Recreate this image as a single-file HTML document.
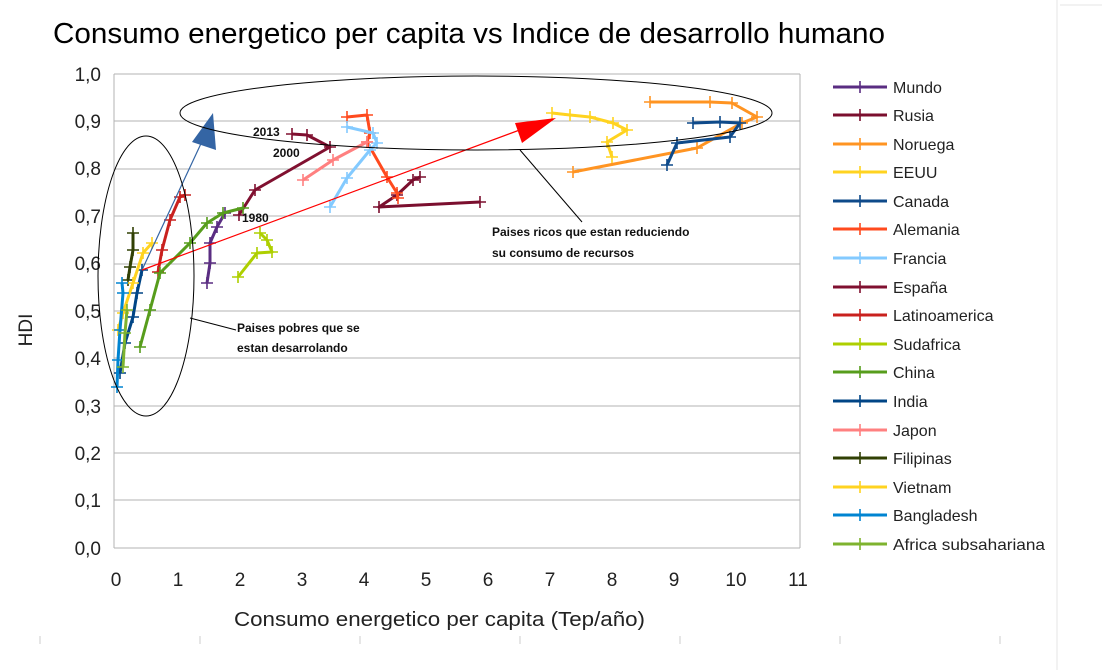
<!DOCTYPE html>
<html><head><meta charset="utf-8"><style>
body{margin:0;background:#fff;}
svg{display:block;font-family:"Liberation Sans",sans-serif;}
</style></head><body>
<svg width="1102" height="670" viewBox="0 0 1102 670" xmlns="http://www.w3.org/2000/svg">
<defs>
<marker id="p" viewBox="-6 -6 12 12" markerWidth="12" markerHeight="12" markerUnits="userSpaceOnUse" refX="0" refY="0"><path d="M-6 0H6M0 -6V6" stroke="context-stroke" stroke-width="1.6"/></marker>
</defs>
<line x1="1057" y1="0" x2="1057" y2="670" stroke="#e4e4e4"/>
<line x1="1060" y1="5" x2="1102" y2="5" stroke="#e4e4e4"/>
<g stroke="#ccc"><line x1="40" y1="636" x2="40" y2="644"/><line x1="200" y1="636" x2="200" y2="644"/><line x1="360" y1="636" x2="360" y2="644"/><line x1="520" y1="636" x2="520" y2="644"/><line x1="680" y1="636" x2="680" y2="644"/><line x1="840" y1="636" x2="840" y2="644"/><line x1="1000" y1="636" x2="1000" y2="644"/></g>
<text x="53" y="43" font-size="29" fill="#000" textLength="832" lengthAdjust="spacingAndGlyphs">Consumo energetico per capita vs Indice de desarrollo humano</text>
<g stroke="#b3b3b3" stroke-width="1">
<line x1="114" y1="74" x2="800" y2="74"/><line x1="114" y1="121" x2="800" y2="121"/><line x1="114" y1="169" x2="800" y2="169"/><line x1="114" y1="216" x2="800" y2="216"/><line x1="114" y1="264" x2="800" y2="264"/><line x1="114" y1="311" x2="800" y2="311"/><line x1="114" y1="358" x2="800" y2="358"/><line x1="114" y1="406" x2="800" y2="406"/><line x1="114" y1="453" x2="800" y2="453"/><line x1="114" y1="500" x2="800" y2="500"/><line x1="114" y1="548" x2="800" y2="548"/>
<line x1="114" y1="74" x2="114" y2="548"/><line x1="800" y1="74" x2="800" y2="548"/>
</g>
<g font-size="19" fill="#222" text-anchor="end">
<text x="101" y="81">1,0</text><text x="101" y="128">0,9</text><text x="101" y="175">0,8</text><text x="101" y="223">0,7</text><text x="101" y="270">0,6</text><text x="101" y="318">0,5</text><text x="101" y="365">0,4</text><text x="101" y="413">0,3</text><text x="101" y="460">0,2</text><text x="101" y="507">0,1</text><text x="101" y="555">0,0</text>
</g>
<g font-size="19" fill="#222" text-anchor="middle">
<text x="116" y="586">0</text><text x="178" y="586">1</text><text x="240" y="586">2</text><text x="302" y="586">3</text><text x="364" y="586">4</text><text x="426" y="586">5</text><text x="488" y="586">6</text><text x="550" y="586">7</text><text x="612" y="586">8</text><text x="674" y="586">9</text><text x="736" y="586">10</text><text x="798" y="586">11</text>
</g>
<text x="234" y="626" font-size="20" fill="#222" textLength="411" lengthAdjust="spacingAndGlyphs">Consumo energetico per capita (Tep/año)</text>
<text x="0" y="0" font-size="19" fill="#222" text-anchor="middle" transform="translate(32,330) rotate(-90)">HDI</text>
<g fill="none" stroke-width="3" stroke-linejoin="round" marker-start="url(#p)" marker-mid="url(#p)" marker-end="url(#p)">
<polyline stroke="#5a2d82" points="207,283 210,263 210,243 217,227 225,213"/>
<polyline stroke="#7b0f2e" points="480,202 379,207 397,195 413,180 420,177"/>
<polyline stroke="#801030" points="239,215 255,190 330,147 307,135 292,134"/>
<polyline stroke="#ff9422" points="573,172 697,148 742,123 757,117 732,103 710,102 650,102"/>
<polyline stroke="#ffd320" points="552,113 570,115 590,117 613,123 627,130 607,142 612,157"/>
<polyline stroke="#0e4a8a" points="667,165 677,143 730,137 740,123 720,122 693,123"/>
<polyline stroke="#ff4a1e" points="398,198 397,193 387,177 367,142 370,133 367,115 347,117"/>
<polyline stroke="#83caff" points="330,207 347,178 370,150 377,143 373,133 347,127"/>
<polyline stroke="#ff8080" points="303,180 333,160 367,142"/>
<polyline stroke="#c9211e" points="158,272 162,250 170,220 180,197 185,195"/>
<polyline stroke="#aecf00" points="238,277 257,253 272,252 267,240 260,233"/>
<polyline stroke="#579d1c" points="140,347 150,310 160,273 190,243 207,223 223,213 243,208"/>
<polyline stroke="#004586" points="120,373 125,343 133,317 137,293 142,270"/>
<polyline stroke="#314004" points="128,280 130,267 133,250 133,233"/>
<polyline stroke="#ffd320" points="118,330 123,313 133,283 143,253 152,243"/>
<polyline stroke="#0084d1" points="117,387 118,360 120,330 123,293 122,283"/>
<polyline stroke="#7eb32f" points="123,367 125,333 127,310"/>
</g>
<line x1="142" y1="270" x2="205" y2="135" stroke="#3465a4" stroke-width="1.2"/>
<polygon points="213,113 216,150 192,142" fill="#3465a4"/>
<line x1="142" y1="270" x2="525" y2="128" stroke="#ff0000" stroke-width="1.2"/>
<polygon points="556,118 522,143 515,123" fill="#ff0000"/>
<ellipse cx="146" cy="276" rx="48" ry="140" fill="none" stroke="#000" stroke-width="1"/>
<ellipse cx="476" cy="113" rx="296" ry="37" fill="none" stroke="#000" stroke-width="1"/>
<line x1="190" y1="318" x2="236" y2="330" stroke="#000"/>
<line x1="520" y1="150" x2="582" y2="222" stroke="#000"/>
<g font-size="12" fill="#111" font-weight="bold">
<text x="237" y="332">Paises pobres que se</text><text x="237" y="352">estan desarrolando</text>
<text x="492" y="236">Paises ricos que estan reduciendo</text><text x="492" y="257">su consumo de recursos</text>
<text x="253" y="136">2013</text><text x="273" y="157">2000</text><text x="242" y="222">1980</text>
</g>
<g stroke-width="3" marker-mid="url(#p)" fill="none">
<polyline stroke="#5a2d82" points="833,87 860,87 887,87"/>
<polyline stroke="#7b0f2e" points="833,115 860,115 887,115"/>
<polyline stroke="#ff9422" points="833,144 860,144 887,144"/>
<polyline stroke="#ffd320" points="833,172 860,172 887,172"/>
<polyline stroke="#0e4a8a" points="833,201 860,201 887,201"/>
<polyline stroke="#ff4a1e" points="833,229 860,229 887,229"/>
<polyline stroke="#83caff" points="833,258 860,258 887,258"/>
<polyline stroke="#801030" points="833,287 860,287 887,287"/>
<polyline stroke="#c9211e" points="833,315 860,315 887,315"/>
<polyline stroke="#aecf00" points="833,344 860,344 887,344"/>
<polyline stroke="#579d1c" points="833,372 860,372 887,372"/>
<polyline stroke="#004586" points="833,401 860,401 887,401"/>
<polyline stroke="#ff8080" points="833,430 860,430 887,430"/>
<polyline stroke="#314004" points="833,458 860,458 887,458"/>
<polyline stroke="#ffd320" points="833,487 860,487 887,487"/>
<polyline stroke="#0084d1" points="833,515 860,515 887,515"/>
<polyline stroke="#7eb32f" points="833,544 860,544 887,544"/>
</g>
<g font-size="16" fill="#222">
<text x="893" y="93">Mundo</text><text x="893" y="121">Rusia</text><text x="893" y="150">Noruega</text><text x="893" y="178">EEUU</text><text x="893" y="207">Canada</text><text x="893" y="235">Alemania</text><text x="893" y="264">Francia</text><text x="893" y="293">España</text><text x="893" y="321">Latinoamerica</text><text x="893" y="350">Sudafrica</text><text x="893" y="378">China</text><text x="893" y="407">India</text><text x="893" y="436">Japon</text><text x="893" y="464">Filipinas</text><text x="893" y="493">Vietnam</text><text x="893" y="521">Bangladesh</text><text x="893" y="550" textLength="152" lengthAdjust="spacingAndGlyphs">Africa subsahariana</text>
</g>
</svg>
</body></html>
